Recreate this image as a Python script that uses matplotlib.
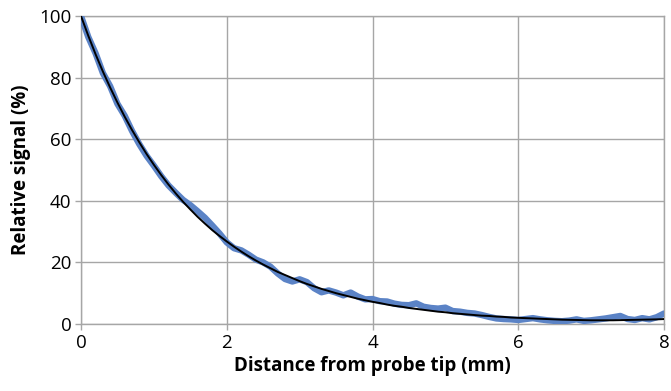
import numpy as np
import matplotlib.pyplot as plt

plt.rcParams['font.family'] = ['Open Sans', 'DejaVu Sans']

# distance from probe tip (mm), 0.1 mm steps
distance = np.round(np.arange(0, 8.01, 0.1), 1)

# measured signal (%)
measured = [100, 93.2, 87.9, 81.5, 77.2, 71.5, 67.6, 62.7, 58.4, 54.6,
            51.4, 48.0, 45.0, 42.6, 40.3, 38.6, 36.6, 34.5, 32.0, 29.4,
            26.5, 24.6, 23.9, 22.5, 20.9, 20.0, 18.6, 16.4, 14.6, 13.8,
            14.5, 13.6, 11.6, 10.3, 10.9, 10.2, 9.3, 10.2, 8.9, 8.0,
            8.1, 7.4, 7.3, 6.6, 6.2, 6.1, 6.7, 5.6, 5.2, 5.0,
            5.3, 4.2, 4.0, 3.6, 3.4, 2.9, 2.3, 1.8, 1.6, 1.5,
            1.3, 1.6, 1.9, 1.5, 1.2, 1.0, 0.9, 1.1, 1.5, 1.0,
            1.2, 1.5, 1.8, 2.2, 2.6, 1.6, 1.3, 1.9, 1.5, 2.2,
            3.4]

# fitted curve (%)
fitted = [100, 93.6, 87.6, 82.0, 76.8, 71.9, 67.3, 63.0, 59.0, 55.2,
          51.7, 48.4, 45.3, 42.4, 39.7, 37.2, 34.8, 32.6, 30.5, 28.6,
          26.8, 25.1, 23.5, 22.0, 20.6, 19.3, 18.1, 16.9, 15.9, 14.9,
          13.9, 13.0, 12.2, 11.4, 10.7, 10.0, 9.4, 8.8, 8.2, 7.7,
          7.2, 6.8, 6.3, 5.9, 5.6, 5.2, 4.9, 4.6, 4.3, 4.0,
          3.8, 3.5, 3.3, 3.1, 2.9, 2.7, 2.6, 2.4, 2.3, 2.1,
          2.0, 1.9, 1.8, 1.7, 1.6, 1.5, 1.4, 1.35, 1.3, 1.25,
          1.2, 1.2, 1.2, 1.2, 1.25, 1.3, 1.35, 1.4, 1.45, 1.5,
          1.6]

grid_col = '#a6a6a6'

fig = plt.figure(figsize=(6.71, 3.91), dpi=100)
ax = fig.add_axes([0.1207, 0.1714, 0.8689, 0.7876])

ax.plot(distance, measured, color='#5b83c6', lw=4.6, solid_capstyle='round',
        solid_joinstyle='round', zorder=3)
ax.plot(distance, fitted, color='black', lw=1.4, zorder=4)

ax.set_xlim(0, 8)
ax.set_ylim(0, 100)
ax.set_xticks([0, 2, 4, 6, 8])
ax.set_yticks([0, 20, 40, 60, 80, 100])
ax.grid(True, color=grid_col, lw=1)
ax.set_axisbelow(True)
for s in ax.spines.values():
    s.set_color(grid_col)
    s.set_linewidth(1)
ax.tick_params(axis='both', direction='out', length=4, width=1,
               color=grid_col, labelsize=13.5, pad=3)

ax.set_xlabel('Distance from probe tip (mm)', fontsize=13.5, fontweight='bold', labelpad=3)
ax.set_ylabel('Relative signal (%)', fontsize=13.5, fontweight='bold', labelpad=6)

fig.savefig('out.png', dpi=100)
